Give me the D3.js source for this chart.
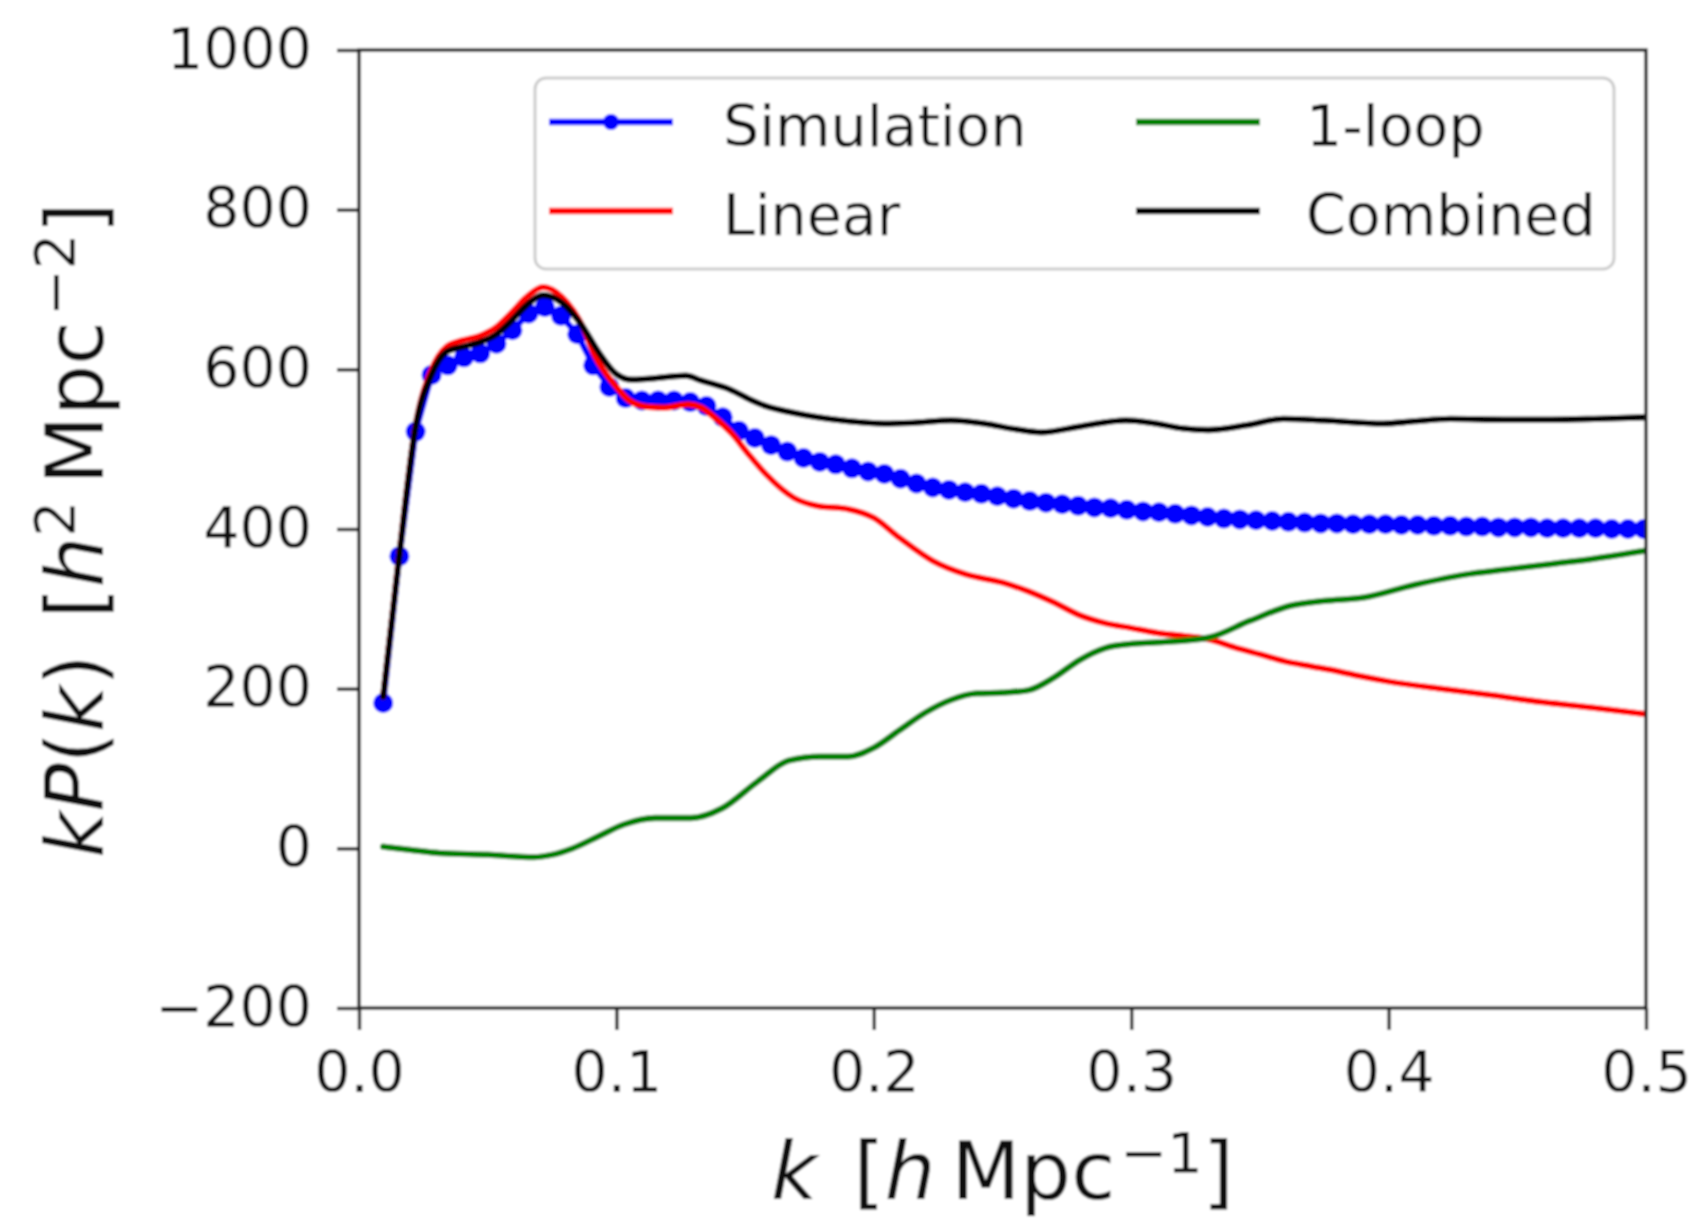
<!DOCTYPE html>
<html>
<head>
<meta charset="utf-8">
<script src="https://cdn.jsdelivr.net/npm/d3@7"></script>
<style>
  html, body { margin: 0; padding: 0; background: #ffffff; }
  svg { display: block; }
  text { font-family: "DejaVu Sans", sans-serif; fill: #111; }
</style>
</head>
<body>
<svg id="chart" width="1696" height="1220"></svg>
<script>
// ---------------- data ----------------
const kSim = [0.0094,0.0157,0.0220,0.0282,0.0345,0.0408,0.0471,0.0534,0.0596,0.0659,
  0.0722,0.0785,0.0848,0.0910,0.0973,0.1036,0.1099,0.1162,0.1224,0.1287,
  0.1350,0.1413,0.1476,0.1538,0.1601,0.1664,0.1727,0.1790,0.1852,0.1915,
  0.1978,0.2041,0.2104,0.2166,0.2229,0.2292,0.2355,0.2418,0.2480,0.2543,
  0.2606,0.2669,0.2732,0.2794,0.2857,0.2920,0.2983,0.3046,0.3108,0.3171,
  0.3234,0.3297,0.3360,0.3422,0.3485,0.3548,0.3611,0.3674,0.3736,0.3799,
  0.3862,0.3925,0.3988,0.4050,0.4113,0.4176,0.4239,0.4302,0.4364,0.4427,
  0.4490,0.4553,0.4616,0.4678,0.4741,0.4804,0.4867,0.4930,0.4992];
const simValues = [182,366,522,593,605,615,620,632,649,670,
  678,667,644,605,578,564,561,561,561,559,
  554,540,523,514,505,497,489,484,481,476,
  472,469,463,457,452,449,446,444,441,438,
  435,433,431,429,427,426,424,422,421,419,
  417,415,413,412,411,410,409,408,407,407,
  406,406,406,405,405,404,404,403,403,402,
  402,402,401,401,401,401,400,400,400];

const kLinear = [0.0094,0.0157,0.0220,0.0280,0.0340,0.0400,0.0470,0.0530,0.0590,0.0650,
  0.0715,0.0790,0.0870,0.0920,0.0990,0.1050,0.1120,0.1180,0.1280,0.1330,
  0.1380,0.1450,0.1510,0.1580,0.1690,0.1780,0.1900,0.2000,0.2100,0.2230,
  0.2360,0.2500,0.2600,0.2700,0.2800,0.2900,0.3000,0.3100,0.3200,0.3300,
  0.3400,0.3500,0.3600,0.3700,0.3800,0.3900,0.4000,0.4200,0.4400,0.4600,
  0.4800,0.5000];
const linearValues = [190,370,530,598,628,636,642,652,670,690,
  703,690,653,615,582,561,553,552,556,552,
  540,519,495,469,439,429,425,414,389,360,
  343,333,322,308,292,282,276,270,266,262,
  252,243,234,228,222,215,209,200,192,183,
  176,168];

const kLoop = [0.0094,0.0200,0.0315,0.0500,0.0680,0.0750,0.0830,0.0930,0.1030,0.1150,
  0.1290,0.1410,0.1550,0.1670,0.1790,0.1900,0.2000,0.2100,0.2200,0.2300,
  0.2400,0.2500,0.2600,0.2700,0.2800,0.2900,0.3000,0.3100,0.3300,0.3460,
  0.3620,0.3750,0.3900,0.4100,0.4300,0.4450,0.4630,0.4800,0.5000];
const loopValues = [2,-2,-6,-8,-11,-8,0,15,30,38,
  38,50,84,110,115,115,126,148,170,186,
  194,195,198,214,236,251,256,258,264,285,
  304,310,314,330,343,349,356,363,373];

const kCombined = [0.0094,0.0157,0.0220,0.0280,0.0340,0.0400,0.0470,0.0530,0.0590,0.0650,
  0.0715,0.0790,0.0870,0.0930,0.1000,0.1060,0.1120,0.1270,0.1330,0.1440,
  0.1520,0.1580,0.1680,0.1780,0.1900,0.2040,0.2150,0.2300,0.2430,0.2550,
  0.2650,0.2810,0.2980,0.3080,0.3200,0.3300,0.3450,0.3590,0.3750,0.3980,
  0.4100,0.4240,0.4450,0.4630,0.4800,0.5000];
const combinedValues = [190,368,528,592,622,628,634,643,660,680,
  693,683,653,622,594,587,588,592,586,575,
  562,554,546,540,535,532,533,536,532,525,
  521,529,536,533,526,524,530,538,536,532,
  535,538,537,537,538,540];

const xTicks = [0.0, 0.1, 0.2, 0.3, 0.4, 0.5];
const yTicks = [-200, 0, 200, 400, 600, 800, 1000];
const legendLabels = ["Simulation", "Linear", "1-loop", "Combined"];
const seriesColors = ["#0000ff", "#ff0000", "#008000", "#000000"];

// ---------------- layout ----------------
const svg = d3.select("#chart");
const defs = svg.append("defs");
defs.append("filter").attr("id", "soft").attr("x", "-5%").attr("y", "-5%").attr("width", "110%").attr("height", "110%")
  .append("feGaussianBlur").attr("stdDeviation", 0.9);

const L = 359, R = 1646, T = 50, B = 1008;
const x = d3.scaleLinear().domain([0, 0.5]).range([L, R]);
const y = d3.scaleLinear().domain([-200, 1000]).range([B, T]);
const tickFont = 57, labelFont = 80, supFont = 56, lw = 6.3;

const root = svg.append("g").attr("filter", "url(#soft)");
root.append("rect").attr("width", 1696).attr("height", 1220).attr("fill", "#fff");
const plot = root.append("g");
defs.append("clipPath").attr("id", "clip")
  .append("rect").attr("x", L).attr("y", T).attr("width", R - L).attr("height", B - T);
const g = plot.append("g").attr("clip-path", "url(#clip)");

function zip(ks, vs) { return ks.map((k, i) => ({k, v: vs[i]})); }
const smooth = d3.line().x(d => x(d.k)).y(d => y(d.v)).curve(d3.curveMonotoneX);
const straight = d3.line().x(d => x(d.k)).y(d => y(d.v));

const sim = zip(kSim, simValues);
g.append("path").datum(sim).attr("d", straight)
  .attr("fill", "none").attr("stroke", seriesColors[0]).attr("stroke-width", lw)
  .attr("stroke-linejoin", "round");
g.selectAll("circle.sim").data(sim).join("circle").attr("class", "sim")
  .attr("cx", d => x(d.k)).attr("cy", d => y(d.v)).attr("r", 10).attr("fill", seriesColors[0]);

[[kLinear, linearValues, 1], [kLoop, loopValues, 2], [kCombined, combinedValues, 3]].forEach(([ks, vs, ci]) => {
  g.append("path").datum(zip(ks, vs)).attr("d", smooth)
    .attr("fill", "none").attr("stroke", seriesColors[ci]).attr("stroke-width", lw)
    .attr("stroke-linejoin", "round").attr("stroke-linecap", "round");
});

// ---------------- axes ----------------
const axisColor = "#222";
const xAxis = root.append("g").attr("transform", `translate(0,${B})`)
  .call(d3.axisBottom(x).tickValues(xTicks).tickFormat(d3.format(".1f")).tickSize(22).tickPadding(22));
const yAxis = root.append("g").attr("transform", `translate(${L},0)`)
  .call(d3.axisLeft(y).tickValues(yTicks).tickFormat(d3.format("d")).tickSize(22).tickPadding(25));
[xAxis, yAxis].forEach(a => {
  a.select(".domain").remove();
  a.selectAll(".tick line").attr("stroke", axisColor).attr("stroke-width", 3.4);
  a.selectAll(".tick text").attr("font-size", tickFont).attr("font-family", "DejaVu Sans").attr("fill", "#111");
});
root.append("rect").attr("x", L).attr("y", T).attr("width", R - L).attr("height", B - T)
  .attr("fill", "none").attr("stroke", axisColor).attr("stroke-width", 3.4);

// ---------------- axis labels ----------------
const xl = root.append("text").attr("x", (L + R) / 2).attr("y", 1199)
  .attr("text-anchor", "middle").attr("font-size", labelFont);
xl.append("tspan").attr("font-style", "italic").text("k");
xl.append("tspan").attr("dx", 36).text("[");
xl.append("tspan").attr("font-style", "italic").text("h");
xl.append("tspan").attr("dx", 16).text("Mpc");
xl.append("tspan").attr("dx", 5).attr("dy", -27).attr("font-size", supFont).text("\u22121");
xl.append("tspan").attr("dy", 27).text("]");

const yl = root.append("text").attr("transform", "translate(103,530) rotate(-90)")
  .attr("text-anchor", "middle").attr("font-size", labelFont);
yl.append("tspan").attr("font-style", "italic").text("kP");
yl.append("tspan").text("(");
yl.append("tspan").attr("font-style", "italic").text("k");
yl.append("tspan").text(")");
yl.append("tspan").attr("dx", 36).text("[");
yl.append("tspan").attr("font-style", "italic").text("h");
yl.append("tspan").attr("dy", -29).attr("font-size", supFont).text("2");
yl.append("tspan").attr("dx", 16).attr("dy", 29).text("Mpc");
yl.append("tspan").attr("dx", 5).attr("dy", -29).attr("font-size", supFont).text("\u22122");
yl.append("tspan").attr("dy", 29).text("]");

// ---------------- legend ----------------
const lg = root.append("g");
lg.append("rect").attr("x", 535).attr("y", 78).attr("width", 1079).attr("height", 191)
  .attr("rx", 11).attr("fill", "#fff").attr("fill-opacity", 0.8)
  .attr("stroke", "#cccccc").attr("stroke-width", 3);
const legendPos = [
  {hx: 549, tx: 723, y: 122},
  {hx: 549, tx: 723, y: 211},
  {hx: 1136, tx: 1306, y: 122},
  {hx: 1136, tx: 1306, y: 211}
];
legendLabels.forEach((lab, i) => {
  const p = legendPos[i];
  lg.append("line").attr("x1", p.hx).attr("x2", p.hx + 124).attr("y1", p.y).attr("y2", p.y)
    .attr("stroke", seriesColors[i]).attr("stroke-width", lw);
  if (i === 0) lg.append("circle").attr("cx", p.hx + 62).attr("cy", p.y).attr("r", 8).attr("fill", seriesColors[0]);
  lg.append("text").attr("x", p.tx).attr("y", p.y + 24).attr("font-size", tickFont).text(lab);
});
</script>
</body>
</html>
